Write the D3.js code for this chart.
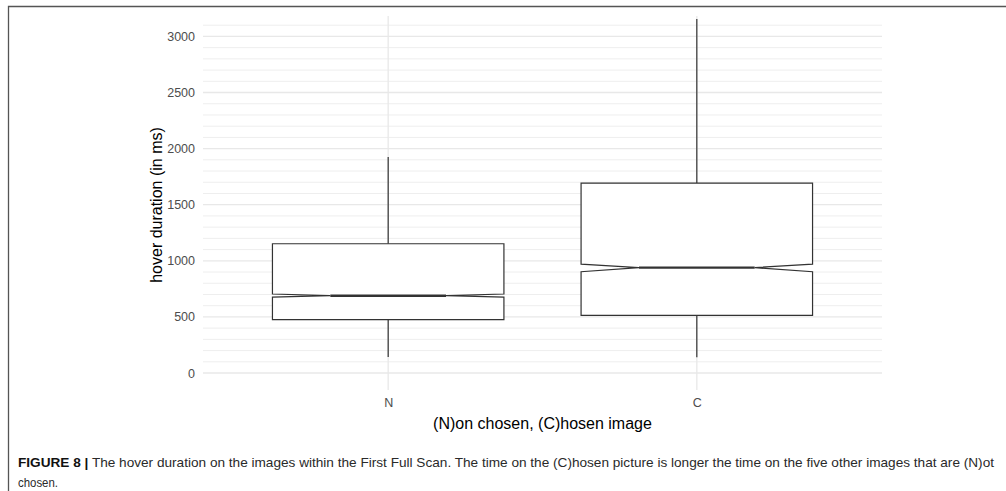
<!DOCTYPE html>
<html>
<head>
<meta charset="utf-8">
<script src="https://cdn.jsdelivr.net/npm/d3@7"></script>
<style>
  html, body { margin: 0; padding: 0; background: #fff; }
  svg { display: block; }
</style>
</head>
<body>
<svg id="chart" width="1006" height="491"></svg>
<script>
// Hover duration per image group (ms): box summary statistics
const categories   = ["N", "C"];
const whiskerLow   = [142, 140];
const q1           = [475, 514];
const median       = [689, 939];
const q3           = [1152, 1693];
const whiskerHigh  = [1925, 3155];
const notchLow     = [677, 903];
const notchHigh    = [704, 971];
const yTicks       = [0, 500, 1000, 1500, 2000, 2500, 3000];
const yMinorTicks  = d3.range(0, 3101, 100).filter(v => v % 500 !== 0);

const xTitle  = "(N)on chosen, (C)hosen image";
const yTitle  = "hover duration (in ms)";
const captionBold = "FIGURE 8 |";
const captionLine1 = " The hover duration on the images within the First Full Scan. The time on the (C)hosen picture is longer the time on the five other images that are (N)ot";
const captionLine2 = "chosen.";

const svg = d3.select("#chart");
const font = "Liberation Sans, Arial, sans-serif";

// Frame around the figure
svg.append("path")
  .attr("d", "M8.5,491 L8.5,6.5 L1006,6.5")
  .attr("fill", "none")
  .attr("stroke", "#555")
  .attr("stroke-width", 1.3);

const panel = { left: 203, right: 882, top: 16, bottom: 390 };

const x = d3.scalePoint()
  .domain(categories)
  .range([panel.left, panel.right])
  .padding(0.6);

const y = d3.scaleLinear()
  .domain([-151.5, 3182])
  .range([panel.bottom, panel.top]);

const step = x.step();
const boxHalf = step * 0.75 / 2;
const notchHalf = boxHalf * 0.5;

// Grid
const grid = svg.append("g");
grid.selectAll("line.minor")
  .data(yMinorTicks)
  .join("line")
  .attr("class", "minor")
  .attr("x1", panel.left).attr("x2", panel.right)
  .attr("y1", d => y(d)).attr("y2", d => y(d))
  .attr("stroke", "#eeeeee")
  .attr("stroke-width", 1);
grid.selectAll("line.major")
  .data(yTicks)
  .join("line")
  .attr("class", "major")
  .attr("x1", panel.left).attr("x2", panel.right)
  .attr("y1", d => y(d)).attr("y2", d => y(d))
  .attr("stroke", "#e8e8e8")
  .attr("stroke-width", 1.3);
grid.selectAll("line.vx")
  .data(categories)
  .join("line")
  .attr("class", "vx")
  .attr("x1", d => x(d)).attr("x2", d => x(d))
  .attr("y1", panel.top).attr("y2", panel.bottom)
  .attr("stroke", "#e8e8e8")
  .attr("stroke-width", 1.3);

// Y axis (labels only)
const yAxis = d3.axisLeft(y).tickValues(yTicks).tickFormat(d3.format("d")).tickSize(0).tickPadding(8);
const gy = svg.append("g")
  .attr("transform", `translate(${panel.left},0)`)
  .call(yAxis);
gy.select(".domain").remove();
gy.selectAll("text")
  .attr("fill", "#4d4d4d")
  .style("font-family", font)
  .style("font-size", "12.5px");

// X axis (labels only)
const xAxis = d3.axisBottom(x).tickSize(0).tickPadding(8);
const gx = svg.append("g")
  .attr("transform", `translate(0,${panel.bottom})`)
  .call(xAxis);
gx.select(".domain").remove();
gx.selectAll("text")
  .attr("fill", "#4d4d4d")
  .style("font-family", font)
  .style("font-size", "12.5px");

// Axis titles
svg.append("text")
  .attr("x", (panel.left + panel.right) / 2)
  .attr("y", 429)
  .attr("text-anchor", "middle")
  .style("font-family", font)
  .style("font-size", "16px")
  .attr("fill", "#000")
  .text(xTitle);

svg.append("text")
  .attr("transform", `translate(162,${(panel.top + panel.bottom) / 2 + 2}) rotate(-90)`)
  .attr("text-anchor", "middle")
  .style("font-family", font)
  .style("font-size", "16px")
  .attr("fill", "#000")
  .text(yTitle);

// Notched boxplots
const boxes = categories.map((c, i) => ({
  c, lo: whiskerLow[i], q1: q1[i], med: median[i], q3: q3[i], hi: whiskerHigh[i],
  nLo: notchLow[i], nHi: notchHigh[i]
}));

const g = svg.append("g");
const stroke = "#333333";

g.selectAll("line.wup")
  .data(boxes).join("line")
  .attr("x1", d => x(d.c)).attr("x2", d => x(d.c))
  .attr("y1", d => y(d.q3)).attr("y2", d => y(d.hi))
  .attr("stroke", stroke).attr("stroke-width", 1.2);
g.selectAll("line.wdn")
  .data(boxes).join("line")
  .attr("x1", d => x(d.c)).attr("x2", d => x(d.c))
  .attr("y1", d => y(d.q1)).attr("y2", d => y(d.lo))
  .attr("stroke", stroke).attr("stroke-width", 1.2);

g.selectAll("path.box")
  .data(boxes).join("path")
  .attr("d", d => {
    const cx = x(d.c);
    const l = cx - boxHalf, r = cx + boxHalf;
    const nl = cx - notchHalf, nr = cx + notchHalf;
    return `M${l},${y(d.q3)} L${r},${y(d.q3)} L${r},${y(d.nHi)} L${nr},${y(d.med)} ` +
           `L${r},${y(d.nLo)} L${r},${y(d.q1)} L${l},${y(d.q1)} L${l},${y(d.nLo)} ` +
           `L${nl},${y(d.med)} L${l},${y(d.nHi)} Z`;
  })
  .attr("fill", "#fff")
  .attr("stroke", stroke)
  .attr("stroke-width", 1.2)
  .attr("stroke-linejoin", "miter");

g.selectAll("line.med")
  .data(boxes).join("line")
  .attr("x1", d => x(d.c) - notchHalf).attr("x2", d => x(d.c) + notchHalf)
  .attr("y1", d => y(d.med)).attr("y2", d => y(d.med))
  .attr("stroke", stroke).attr("stroke-width", 2.4);

// Caption
const cap = svg.append("text")
  .attr("x", 18)
  .attr("y", 467)
  .attr("textLength", 976)
  .attr("lengthAdjust", "spacingAndGlyphs")
  .style("font-family", font)
  .style("font-size", "13px")
  .attr("fill", "#2a2a2a");
cap.append("tspan").style("font-weight", "bold").attr("fill", "#111").text(captionBold);
cap.append("tspan").text(captionLine1);

svg.append("text")
  .attr("x", 18)
  .attr("y", 487)
  .attr("textLength", 40)
  .attr("lengthAdjust", "spacingAndGlyphs")
  .style("font-family", font)
  .style("font-size", "13px")
  .attr("fill", "#2a2a2a")
  .text(captionLine2);
</script>
</body>
</html>
